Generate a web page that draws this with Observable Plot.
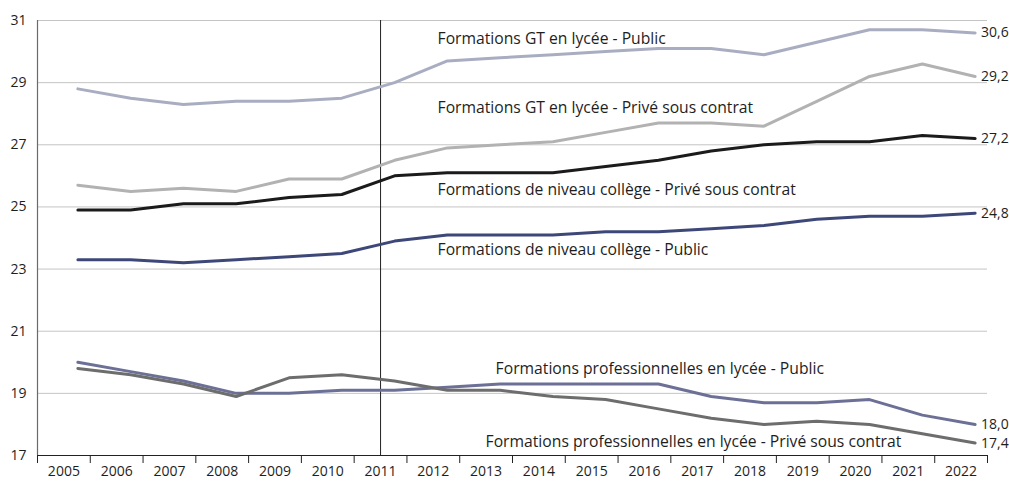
<!DOCTYPE html>
<html>
<head>
<meta charset="utf-8">
<script src="https://cdn.jsdelivr.net/npm/d3@7"></script>
<script src="https://cdn.jsdelivr.net/npm/@observablehq/plot@0.6"></script>
<style>
  html, body { margin: 0; padding: 0; background: #fff; }
  #chart { width: 1009px; height: 484px; overflow: hidden; }
</style>
</head>
<body>
<div id="chart"></div>
<script>
const years = [2005, 2006, 2007, 2008, 2009, 2010, 2011, 2012, 2013, 2014, 2015, 2016, 2017, 2018, 2019, 2020, 2021, 2022];

const seriesNames = [
  "Formations GT en lycée - Public",
  "Formations GT en lycée - Privé sous contrat",
  "Formations de niveau collège - Privé sous contrat",
  "Formations de niveau collège - Public",
  "Formations professionnelles en lycée - Public",
  "Formations professionnelles en lycée - Privé sous contrat"
];

const gtPublic = [28.8, 28.5, 28.3, 28.4, 28.4, 28.5, 29.0, 29.7, 29.8, 29.9, 30.0, 30.1, 30.1, 29.9, 30.3, 30.7, 30.7, 30.6];
const gtPrive = [25.7, 25.5, 25.6, 25.5, 25.9, 25.9, 26.5, 26.9, 27.0, 27.1, 27.4, 27.7, 27.7, 27.6, 28.4, 29.2, 29.6, 29.2];
const collegePrive = [24.9, 24.9, 25.1, 25.1, 25.3, 25.4, 26.0, 26.1, 26.1, 26.1, 26.3, 26.5, 26.8, 27.0, 27.1, 27.1, 27.3, 27.2];
const collegePublic = [23.3, 23.3, 23.2, 23.3, 23.4, 23.5, 23.9, 24.1, 24.1, 24.1, 24.2, 24.2, 24.3, 24.4, 24.6, 24.7, 24.7, 24.8];
const proPublic = [20.0, 19.7, 19.4, 19.0, 19.0, 19.1, 19.1, 19.2, 19.3, 19.3, 19.3, 19.3, 18.9, 18.7, 18.7, 18.8, 18.3, 18.0];
const proPrive = [19.8, 19.6, 19.3, 18.9, 19.5, 19.6, 19.4, 19.1, 19.1, 18.9, 18.8, 18.5, 18.2, 18.0, 18.1, 18.0, 17.7, 17.4];

const seriesValues = [gtPublic, gtPrive, collegePrive, collegePublic, proPublic, proPrive];

// Annotation anchors (in data space: year, value)
const labelYears = [2012.08, 2012.08, 2012.08, 2012.08, 2013.18, 2012.99];
const labelValues = [30.42, 28.2, 25.53, 23.63, 19.77, 17.45];

const yTicks = [17, 19, 21, 23, 25, 27, 29, 31];
const separatorYear = 2011;

// Styles
const seriesColors = ["#a9adc1", "#b2b2b2", "#1b1b1b", "#3e4878", "#6c7096", "#6d6d6d"];

const data = seriesNames.flatMap((s, i) => years.map((yr, j) => ({series: s, year: yr, value: seriesValues[i][j]})));
const lastPoints = seriesNames.map((s, i) => ({series: s, year: years[years.length - 1], value: seriesValues[i][years.length - 1]}));
const labels = seriesNames.map((s, i) => ({series: s, year: labelYears[i], value: labelValues[i]}));
const edges = [years[0] - 0.5, ...years.map(y => y + 0.5)];

const font = "'Open Sans', sans-serif";

const chart = Plot.plot({
  width: 1009,
  height: 484,
  marginLeft: 37,
  marginRight: 22,
  marginTop: 20,
  marginBottom: 29,
  style: {fontFamily: font, fontSize: "14px", color: "#1e1e1e", background: "#fff"},
  x: {domain: [years[0] - 0.5, years[years.length - 1] + 0.5], axis: null},
  y: {domain: [17, 31], axis: null},
  color: {domain: seriesNames, range: seriesColors},
  marks: [
    Plot.gridY(yTicks, {stroke: "#c4c4c4", strokeOpacity: 1, strokeWidth: 1}),
    Plot.axisY({ticks: yTicks, tickSize: 0, tickPadding: 11, label: null, tickFormat: d => d, fontSize: 14, fill: "#1e1e1e"}),
    Plot.ruleX([years[0] - 0.5], {stroke: "#6a6a6a", strokeWidth: 1.2}),
    Plot.ruleX([separatorYear], {stroke: "#222", strokeWidth: 1}),
    Plot.line(data, {x: "year", y: "value", z: "series", stroke: "series", strokeWidth: 3, dx: 14, strokeLinejoin: "miter"}),
    Plot.ruleY([17], {stroke: "#222", strokeWidth: 1.2}),
    Plot.axisX({ticks: edges, tickSize: 8, tickFormat: () => "", stroke: "#222", label: null}),
    Plot.axisX({ticks: years, tickSize: 0, tickPadding: 11, tickFormat: d => String(d), label: null, fontSize: 14, fill: "#1e1e1e"}),
    Plot.text(lastPoints, {x: "year", y: "value", text: d => d.value.toFixed(1).replace(".", ","), dx: 20, textAnchor: "start", fontSize: 14, fill: "#1e1e1e"}),
    Plot.text(labels, {x: "year", y: "value", text: "series", textAnchor: "start", fontSize: 15.7, fill: "#1e1e1e"})
  ]
});

document.getElementById("chart").appendChild(chart);
</script>
</body>
</html>
